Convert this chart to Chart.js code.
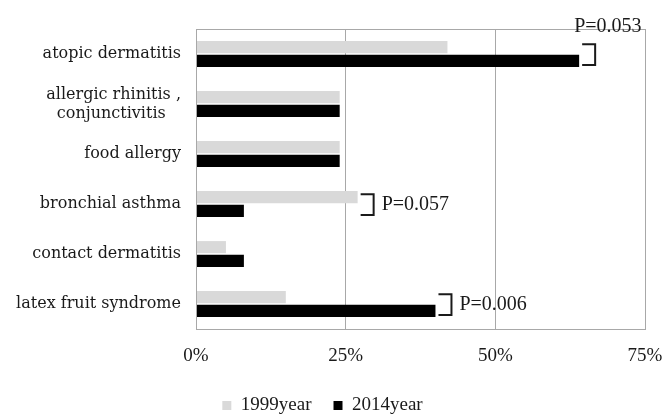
<!DOCTYPE html>
<html>
<head>
<meta charset="utf-8">
<script src="https://cdn.jsdelivr.net/npm/chart.js@4.4.1/dist/chart.umd.min.js"></script>
<style>
  html, body { margin: 0; padding: 0; background: #fff; }
  #wrap { width: 669px; height: 414px; }
</style>
</head>
<body>
<div id="wrap"><canvas id="chart"></canvas></div>
<script>
// categories (second one split over two lines like the original)
const categories = [
  'atopic dermatitis',
  ['allergic rhinitis ,', 'conjunctivitis   '],
  'food allergy',
  'bronchial asthma',
  'contact dermatitis',
  'latex fruit syndrome'
]
// percentages
const values1999 = [42, 24, 24, 27, 5, 15]
const values2014 = [64, 24, 24, 8, 8, 40]
const seriesNames = ['1999year', '2014year']
const xTicks = [0, 25, 50, 75]
// p-values shown beside the pairs ('' = none)
const pLabels = ['P=0.053', '', '', 'P=0.057', '', 'P=0.006']

//frame round the plot + brackets with p-values
const extras = {
  id: 'extras',
  afterDatasetsDraw(chart) {
    const ctx = chart.ctx
    const area = chart.chartArea
    const x = chart.scales.x
    ctx.save()
    ctx.strokeStyle = '#a8a8a8'
    ctx.lineWidth = 1
    ctx.strokeRect(area.left + 0.5, area.top + 0.5, area.right - area.left, area.bottom - area.top)

    const m0 = chart.getDatasetMeta(0)
    const m1 = chart.getDatasetMeta(1)
    pLabels.forEach((label, i) => {
      if (!label) return
      const end = x.getPixelForValue(Math.max(values1999[i], values2014[i]))
      const x0 = end + 3
      const x1 = x0 + 13
      const top = m0.data[i].y - 3
      const bottom = m1.data[i].y + 4
      ctx.strokeStyle = '#1a1a1a'
      ctx.lineWidth = 2
      ctx.beginPath()
      ctx.moveTo(x0, top)
      ctx.lineTo(x1, top)
      ctx.lineTo(x1, bottom)
      ctx.lineTo(x0, bottom)
      ctx.stroke()
      ctx.fillStyle = '#1a1a1a'
      ctx.font = '20px "Liberation Serif"'
      if (i == 0) {
        ctx.textAlign = 'left'
        ctx.textBaseline = 'alphabetic'
        ctx.fillText(label, x0 - 8, top - 12)
      } else {
        ctx.textAlign = 'left'
        ctx.textBaseline = 'middle'
        ctx.fillText(label, x1 + 8, (top + bottom) / 2)
      }
    })
    ctx.restore()
  }
}

const data = {
  labels: categories,
  datasets: [
    {
      label: seriesNames[0],
      data: values1999,
      backgroundColor: '#d9d9d9',
      categoryPercentage: 0.55,
      barPercentage: 0.88
    },
    {
      label: seriesNames[1],
      data: values2014,
      backgroundColor: '#000000',
      categoryPercentage: 0.55,
      barPercentage: 0.88
    }
  ]
}

const config = {
  type: 'bar',
  data: data,
  options: {
    indexAxis: 'y',
    responsive: true,
    maintainAspectRatio: false,
    animation: false,
    layout: {
      padding: { top: 29, right: 24, left: 0, bottom: -11 }
    },
    scales: {
      x: {
        min: 0,
        max: 75,
        afterBuildTicks: (scale) => { scale.ticks = xTicks.map(v => ({ value: v })) },
        afterFit: (scale) => {
          scale.height = 45
          scale.paddingRight = 0
          scale.paddingLeft = 0
        },
        grid: { color: '#a8a8a8', lineWidth: 1, drawTicks: false },
        border: { display: false },
        ticks: {
          color: '#1a1a1a',
          padding: 16,
          font: { family: 'Liberation Serif', size: 19 },
          callback: (v) => v + '%'
        }
      },
      y: {
        afterFit: (scale) => { scale.width = 196 },
        grid: { display: false },
        border: { display: false },
        ticks: {
          color: '#1a1a1a',
          padding: 7,
          font: { family: 'DejaVu Serif', size: 16, lineHeight: 1.2 }
        }
      }
    },
    plugins: {
      legend: {
        position: 'bottom',
        labels: {
          color: '#1a1a1a',
          boxWidth: 9,
          boxHeight: 9,
          padding: 22,
          font: { family: 'Liberation Serif', size: 19 }
        }
      },
      tooltip: { enabled: false }
    }
  },
  plugins: [extras]
}

new Chart(document.querySelector('#chart'), config)
</script>
</body>
</html>
